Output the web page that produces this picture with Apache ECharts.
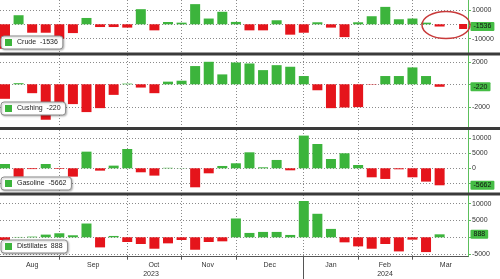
<!DOCTYPE html>
<html><head><meta charset="utf-8">
<script src="https://cdn.jsdelivr.net/npm/echarts@6/dist/echarts.min.js"></script>
<style>html,body{margin:0;padding:0;background:#fff}#c{width:500px;height:279px}</style>
</head><body><div id="c"></div>
<script>
// ---- data (weekly inventory changes, thousand barrels) ----
const seriesNames = ['Crude', 'Cushing', 'Gasoline', 'Distillates'];
const crude = [-17000, 6300, -5850, -5850, -10000, -6100, 4400, -1900, -1900, -2300, 10500, -4200, 1600, 1150, 14000, 4000, 8700, 1650, -4200, -4200, 2800, -7200, -5850, 1400, -2300, -8900, 1400, 5600, 12100, 3500, 4000, 1150, -1536];
const cushing = [-1290, 100, -790, -3150, -2000, -1760, -2470, -2120, -940, 60, -290, -790, 235, 320, 1620, 2000, 880, 1940, 1850, 1260, 1700, 1560, 735, -530, -2120, -2060, -2030, -30, 735, 735, 1500, 735, -220];
const gasoline = [1440, -2780, -260, 1440, -210, -2780, 5550, -780, 890, 6440, -1330, -2440, 160, 60, -6330, -1670, 780, 1670, 5330, 330, 2780, -670, 10900, 8100, 3100, 5000, 1110, -3000, -3550, -330, -3000, -4440, -5662];
const distillates = [-800, 100, 200, 800, 1200, 600, 4100, -3000, 400, -1400, -2000, -3400, -1800, -800, -3700, -1400, -1200, 5600, 1300, 1600, 1600, 700, 10800, 7000, 2500, -1500, -2700, -3400, -2000, -4200, -700, -4400, 888];

// tick labels (right axes)
const crudeTicks = [-10000, 0, 10000];
const cushingTicks = [-2000, 0, 2000];
const gasolineTicks = [-5000, 0, 5000, 10000];
const distillatesTicks = [-5000, 0, 5000, 10000];

// time axis (positions in week-index units)
const monthNames = ['Aug', 'Sep', 'Oct', 'Nov', 'Dec', 'Jan', 'Feb', 'Mar'];
const monthLabelPos = [2.0, 6.5, 10.96, 14.93, 19.49, 24.0, 27.97, 32.46];
const monthBounds = [3.99, 9.02, 12.99, 16.99, 21.93, 25.98, 29.95];
const yearNames = ['2023', '2024'];
const yearLabelPos = [10.75, 27.98];
const yearBounds = [21.93];

// ---- layout / style ----
const XMIN = -0.368, XMAX = 34.09;
const GREEN = '#3cb43c', RED = '#e5141b', AXISG = '#5cbf5c', TAG = '#45bd45';
const FONT = 'Liberation Sans, Arial, sans-serif';
const panels = [
  {top: 0, height: 53, min: -19930, max: 16875, legendTop: 36},
  {top: 55, height: 73, min: -3884, max: 2604, legendTop: 102},
  {top: 130, height: 63, min: -8233, max: 12767, legendTop: 177},
  {top: 195, height: 61.7, min: -5774, max: 12589, legendTop: 240}
];
const allData = [crude, cushing, gasoline, distillates];
const allTicks = [crudeTicks, cushingTicks, gasolineTicks, distillatesTicks];
const lastOf = {};
seriesNames.forEach((n, i) => { lastOf[n] = allData[i][allData[i].length - 1]; });

const gridLine = {type: [1, 2], color: '#8a8a8a', width: 1};

const grid = panels.map(p => ({left: 0, right: 32, top: p.top, height: p.height, containLabel: false, outerBoundsMode: 'none'}));

const xAxis = panels.map((p, i) => ({
  gridIndex: i, type: 'value', min: XMIN, max: XMAX, position: 'bottom',
  show: true,
  axisLine: {show: i === 3, onZero: false, lineStyle: {color: '#555', width: 1}},
  axisTick: {show: i === 3, customValues: monthBounds, length: 3, lineStyle: {color: '#555'}},
  axisLabel: {show: i === 3, customValues: monthLabelPos, margin: 5, fontSize: 7, color: '#333', fontFamily: FONT,
    formatter: v => { const k = monthLabelPos.findIndex(q => Math.abs(q - v) < 1e-6); return k >= 0 ? monthNames[k] : ''; }},
  splitLine: {show: true, lineStyle: gridLine}
}));
xAxis.push({
  gridIndex: 3, type: 'value', min: XMIN, max: XMAX, position: 'bottom', offset: 0,
  axisLine: {show: false, onZero: false},
  axisTick: {show: true, customValues: yearBounds, length: 23, lineStyle: {color: '#555'}},
  axisLabel: {show: true, customValues: yearLabelPos, margin: 14, fontSize: 7, color: '#333', fontFamily: FONT,
    formatter: v => { const k = yearLabelPos.findIndex(q => Math.abs(q - v) < 1e-6); return k >= 0 ? yearNames[k] : ''; }},
  splitLine: {show: false}
});

const yAxis = panels.map((p, i) => {
  const ticks = allTicks[i];
  const step = ticks[1] - ticks[0];
  const last = lastOf[seriesNames[i]];
  return {
    gridIndex: i, type: 'value', position: 'right', min: p.min, max: p.max,
    axisLine: {show: true, onZero: false, lineStyle: {color: AXISG, width: 1}},
    axisTick: {show: true, customValues: ticks, length: 3, lineStyle: {color: AXISG}},
    axisLabel: {customValues: ticks, margin: 4, fontSize: 7, color: '#333', fontFamily: FONT,
      formatter: v => (Math.abs(v - last) < step * 0.35 ? '' : String(v))},
    splitLine: {show: true, lineStyle: gridLine}
  };
});

const series = seriesNames.map((name, i) => {
  const vals = allData[i];
  const last = vals[vals.length - 1];
  const s = {
    type: 'bar', name, xAxisIndex: i, yAxisIndex: i, z: 2,
    data: vals.map((v, k) => [k, v]),
    barWidth: 10,
    itemStyle: {color: q => (q.value[1] >= 0 ? GREEN : RED)},
    markPoint: {silent: true, animation: false, z: 10,
      data: [{coord: [XMAX, last], symbol: 'rect', symbolSize: [1, 1], itemStyle: {color: 'rgba(0,0,0,0)'},
        label: {show: true, position: 'right', distance: 2, formatter: String(last), backgroundColor: TAG,
          color: '#111', fontSize: 7, fontFamily: FONT, padding: [1, 3, 0, 3], lineHeight: 8, borderRadius: 1}}]}
  };
  if (i === 0) {
    s.markPoint.data.push({coord: [33.73, last], symbol: 'rect', symbolSize: [8, 5], itemStyle: {color: RED}, label: {show: false}});
  }
  return s;
});

const legend = panels.map((p, i) => ({
  data: [{name: seriesNames[i], icon: 'rect', itemStyle: {color: GREEN}}],
  left: 1, top: p.legendTop, orient: 'horizontal', selectedMode: false,
  itemWidth: 7, itemHeight: 7,
  formatter: n => n + '  ' + lastOf[n],
  textStyle: {fontSize: 7, color: '#222', fontFamily: FONT},
  backgroundColor: '#fff', borderColor: '#8c8c8c', borderWidth: 1, borderRadius: 3,
  padding: [3, 5, 3, 4],
  shadowBlur: 2, shadowColor: 'rgba(0,0,0,0.25)', shadowOffsetX: 1, shadowOffsetY: 1
}));

const graphic = [
  {type: 'rect', shape: {x: 0, y: 52.5, width: 500, height: 3}, style: {fill: '#3a3a3a'}, z: 50, silent: true},
  {type: 'rect', shape: {x: 0, y: 127, width: 500, height: 3}, style: {fill: '#3a3a3a'}, z: 50, silent: true},
  {type: 'rect', shape: {x: 0, y: 192.5, width: 500, height: 3}, style: {fill: '#3a3a3a'}, z: 50, silent: true},
  {type: 'ellipse', shape: {cx: 446, cy: 25, rx: 24, ry: 13.5}, style: {fill: 'none', stroke: '#c83a3a', lineWidth: 1.5}, z: 60, silent: true}
];

const chart = echarts.init(document.getElementById('c'), null, {renderer: 'canvas'});
chart.setOption({animation: false, grid, xAxis, yAxis, series, legend, graphic});
</script>
</body></html>
